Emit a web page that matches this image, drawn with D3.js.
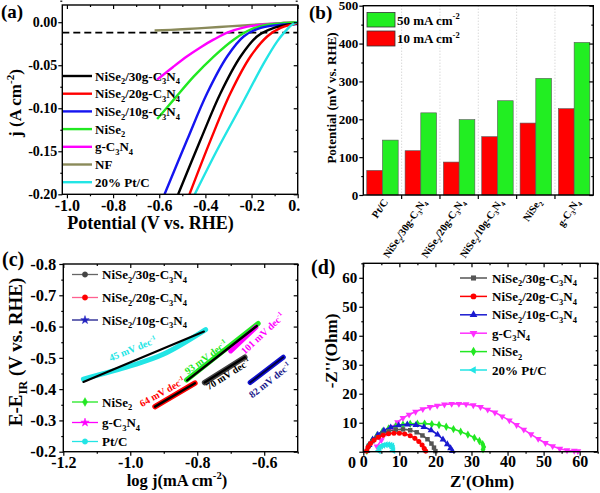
<!DOCTYPE html>
<html><head><meta charset="utf-8">
<script src="https://cdn.jsdelivr.net/npm/d3@7"></script>
<style>
body{margin:0;background:#fff}
svg text{font-family:"Liberation Serif","Times New Roman",serif;font-weight:bold}
</style></head><body>
<svg id="c" width="600" height="493"></svg>
<script>
// ---------------- DATA ----------------
// (a) polarization curves [V vs RHE, j A cm-2]
const polN30 = [[-0.518,-0.2],[-0.421,-0.1367],[-0.334,-0.0823],[-0.247,-0.0396],[-0.175,-0.0163],[-0.103,-0.0066],[-0.045,-0.003],[0,-0.0015]];
const polN20 = [[-0.469,-0.2],[-0.377,-0.1367],[-0.291,-0.0823],[-0.204,-0.0396],[-0.131,-0.0163],[-0.074,-0.0066],[-0.03,-0.003],[0,-0.001]];
const polN10 = [[-0.577,-0.2],[-0.479,-0.1367],[-0.392,-0.0823],[-0.305,-0.0396],[-0.233,-0.0163],[-0.16,-0.0066],[-0.074,-0.003],[0,-0.002]];
const polNiSe2 = [[-0.609,-0.1126],[-0.537,-0.090],[-0.450,-0.063],[-0.363,-0.0396],[-0.276,-0.020],[-0.204,-0.0085],[-0.132,-0.003],[-0.06,-0.001],[0,0]];
const polGCN = [[-0.609,-0.0668],[-0.54,-0.052],[-0.479,-0.0396],[-0.42,-0.029],[-0.363,-0.020],[-0.30,-0.0115],[-0.24,-0.0065],[-0.19,-0.004],[-0.12,-0.002],[-0.06,-0.001],[0,-0.0005]];
const polNF = [[-0.62,-0.0097],[-0.5,-0.0082],[-0.4,-0.0066],[-0.3,-0.0049],[-0.2,-0.0032],[-0.1,-0.0016],[0,0]];
const polPtC = [[-0.446,-0.2],[-0.348,-0.148],[-0.247,-0.098],[-0.146,-0.0473],[-0.088,-0.022],[-0.055,-0.011],[-0.025,-0.003],[0,0]];
const refJ = -0.012;
const legA = ["NiSe_{2}/30g-C_{3}N_{4}","NiSe_{2}/20g-C_{3}N_{4}","NiSe_{2}/10g-C_{3}N_{4}","NiSe_{2}","g-C_{3}N_{4}","NF","20% Pt/C"];
const xTicksA = [-1.0,-0.8,-0.6,-0.4,-0.2,0.0];
const yTicksA = [0.00,-0.05,-0.10,-0.15,-0.20];

// (b) overpotentials (mV)
const catsB = ["Pt/C","NiSe_{2}/30g-C_{3}N_{4}","NiSe_{2}/20g-C_{3}N_{4}","NiSe_{2}/10g-C_{3}N_{4}","NiSe_{2}","g-C_{3}N_{4}"];
const eta10 = [65,117,87,154,190,228];
const eta50 = [145,217,199,249,308,403];
const yTicksB = [0,100,200,300,400,500];

// (c) Tafel plots [log j, E-EiR]
const tafPtC = [[-1.14,-0.432],[-1.0,-0.474],[-0.9,-0.512],[-0.775,-0.590]];
const fitPtC = [[-1.14,-0.423],[-0.78,-0.584]];
const tafNiSe2 = [[-0.832,-0.429],[-0.618,-0.610]];
const fitNiSe2 = [[-0.83,-0.428],[-0.622,-0.602]];
const tafGCN = [[-0.70,-0.522],[-0.625,-0.598]];
const taf30 = [[-0.778,-0.421],[-0.658,-0.502]];
const taf20 = [[-0.926,-0.344],[-0.807,-0.419]];
const taf10 = [[-0.642,-0.421],[-0.543,-0.502]];
const slopeLabels = ["45 mV dec^{-1}","93 mV dec^{-1}","101 mV dec^{-1}","64 mV dec^{-1}","70 mV dec^{-1}","82 mV dec^{-1}"];
const xTicksC = [-1.2,-1.0,-0.8,-0.6];
const yTicksC = [-0.8,-0.7,-0.6,-0.5,-0.4,-0.3,-0.2];

// (d) Nyquist [Z', -Z'']
const nyqPtC = [[4.3,0.3],[4.5,1.2],[4.9,1.9],[5.5,2.2],[6.2,2.4],[6.9,2.4],[7.5,2.3],[8.0,2.0],[8.2,1.2],[8.3,0.4]];
const nyq20 = [[0.9,0.2],[1.3,1.5],[2.0,2.8],[3.0,4.0],[4.2,5.0],[5.5,5.7],[7.0,6.2],[8.5,6.4],[10,6.4],[11.5,6.1],[13,5.5],[14.3,4.6],[15.4,3.5],[16.3,2.3],[16.9,1.1],[17.3,0.2]];
const nyq30 = [[1.0,0.3],[1.5,2],[2.5,3.6],[3.8,5],[5.3,6.2],[7,7.0],[9,7.6],[11,7.7],[13,7.4],[14.8,6.7],[16.4,5.6],[17.8,4.3],[18.9,2.8],[19.6,1.4],[20,0.2]];
const nyq10 = [[1,0.3],[1.6,2.3],[2.6,4.2],[4,5.9],[5.7,7.3],[7.6,8.4],[9.8,9.1],[12.2,9.4],[14.6,9.2],[16.8,8.5],[18.8,7.4],[20.6,5.9],[22.1,4.2],[23.3,2.6],[24.2,1.2],[24.7,0.2]];
const nyqNiSe2 = [[1,0.3],[1.5,2.2],[2.5,4],[3.8,5.6],[5.3,7],[7,8],[9,8.8],[11,9.3],[13,9.6],[15,9.7],[17,9.7],[19,9.5],[21,9.2],[23,8.6],[25,7.8],[27,6.9],[29,5.9],[30.8,4.8],[32.2,3.7],[33.1,2.6],[33.4,1.6],[33.2,0.8]];
const nyqGCN = [[3.8,1.8],[5,4],[6.5,6.5],[8,8.5],[9.5,10.2],[11,11.6],[12.7,12.8],[14.5,13.8],[16.5,14.7],[18.5,15.4],[20.5,15.9],[22.5,16.3],[24.5,16.5],[26.5,16.5],[28.5,16.4],[30.5,16],[32.5,15.4],[34.5,14.5],[36.5,13.5],[38.5,12.2],[40.5,10.8],[42.5,9.2],[44.5,7.6],[46.5,6],[48.5,4.4],[50.5,3],[52.5,1.9],[54.5,1],[56.5,0.5],[58.5,0.3],[59.5,0.2]];
const legD = ["NiSe_{2}/30g-C_{3}N_{4}","NiSe_{2}/20g-C_{3}N_{4}","NiSe_{2}/10g-C_{3}N_{4}","g-C_{3}N_{4}","NiSe_{2}","20% Pt/C"];
const ticksD = [0,10,20,30,40,50,60];

// ---------------- HELPERS ----------------
const svg = d3.select("#c");
const fmt = p => d => d3.format("." + p + "f")(d).replace("\u2212", "-");

function rich(sel, str, fs) {
  const parts = str.split(/(_\{[^}]*\}|\^\{[^}]*\})/).filter(s => s.length);
  let shift = 0;
  parts.forEach(p => {
    let kind = null, t = p;
    if (p.startsWith("_{")) { kind = "sub"; t = p.slice(2, -1); }
    else if (p.startsWith("^{")) { kind = "sup"; t = p.slice(2, -1); }
    const target = kind === "sub" ? fs * 0.28 : kind === "sup" ? -fs * 0.42 : 0;
    const ts = sel.append("tspan").text(t).attr("dy", target - shift);
    if (kind) ts.attr("font-size", fs * 0.65);
    shift = target;
  });
  return sel;
}
function txt(g, x, y, str, fs, o = {}) {
  const t = g.append("text").attr("font-size", fs).attr("fill", o.fill || "#000")
    .attr("text-anchor", o.anchor || "start");
  if (o.rot !== undefined) t.attr("transform", `translate(${x},${y}) rotate(${o.rot})`);
  else t.attr("x", x).attr("y", y);
  rich(t, str, fs);
  return t;
}
function frame(g, x, y, c) {
  const [x0, x1] = x.range();
  const y0 = Math.max(...y.range()), y1 = Math.min(...y.range()); // bottom, top
  const ax = (gen, tr, vals, size, f, fs, pad) => {
    const a = g.append("g").attr("transform", tr)
      .call(gen.tickValues(vals).tickSize(size).tickPadding(pad === undefined ? 1 : pad).tickFormat(f || (() => "")));
    a.select(".domain").remove();
    a.selectAll("line").attr("stroke", "#000").attr("stroke-width", 1.2);
    a.selectAll("text").attr("font-size", fs || 12).attr("fill", "#000")
      .attr("font-family", '"Liberation Serif","Times New Roman",serif').attr("font-weight", "bold");
    return a;
  };
  ax(d3.axisLeft(y), `translate(${x0},0)`, c.yMaj, 4, c.yFmt, c.yfs, c.ypad);
  if (c.yMin) ax(d3.axisLeft(y), `translate(${x0},0)`, c.yMin, 2);
  ax(d3.axisLeft(y), `translate(${x1},0)`, c.yMaj, 4);
  if (c.yMin) ax(d3.axisLeft(y), `translate(${x1},0)`, c.yMin, 2);
  if (c.xMaj) ax(d3.axisBottom(x), `translate(0,${y0})`, c.xMaj, 4, c.xFmt, c.xfs, c.xpad);
  if (c.xMin) ax(d3.axisBottom(x), `translate(0,${y0})`, c.xMin, 2);
  if (c.xMaj) ax(d3.axisBottom(x), `translate(0,${y1})`, c.xMaj, 4);
  if (c.xMin) ax(d3.axisBottom(x), `translate(0,${y1})`, c.xMin, 2);
  g.append("rect").attr("x", x0).attr("y", y1).attr("width", x1 - x0).attr("height", y0 - y1)
    .attr("fill", "none").attr("stroke", "#000").attr("stroke-width", 1.4);
}
const range = (a, b, s) => d3.range(a, b + s / 2, s);

// ---------------- PANEL A ----------------
{
  svg.append("clipPath").attr("id", "clipA").append("rect").attr("x", 0).attr("y", 0).attr("width", 300).attr("height", 240);
  const g = svg.append("g").attr("clip-path", "url(#clipA)");
  const x = d3.scaleLinear([-1.02, 0], [62.3, 297.7]);
  const y = d3.scaleLinear([-0.2, 0.02], [194.3, 5]);
  const line = d3.line().x(d => x(d[0])).y(d => y(d[1])).curve(d3.curveCatmullRom);
  g.append("clipPath").attr("id", "clipAin").append("rect")
    .attr("x", 62.3).attr("y", 5).attr("width", 235.4).attr("height", 189.3);
  const pg = g.append("g").attr("clip-path", "url(#clipAin)");
  pg.append("line").attr("x1", x(-1.02)).attr("x2", x(0)).attr("y1", y(refJ)).attr("y2", y(refJ))
    .attr("stroke", "#000").attr("stroke-width", 1.8).attr("stroke-dasharray", "7,4");
  const series = [[polNF, "#8a8a5a"], [polGCN, "#ff00ff"], [polNiSe2, "#22e822"], [polN10, "#1515f0"],
                  [polN30, "#000"], [polN20, "#ff0000"], [polPtC, "#22e5e5"]];
  series.forEach(([d, c]) => pg.append("path").attr("d", line(d)).attr("fill", "none")
    .attr("stroke", c).attr("stroke-width", 2.4));
  frame(g, x, y, {
    yMaj: yTicksA, yMin: range(-0.175, 0.01, 0.05), yFmt: fmt(2), yfs: 14,
    xMaj: xTicksA, xMin: range(-0.9, -0.05, 0.2), xFmt: fmt(1), xfs: 16
  });
  const colsA = ["#000", "#ff0000", "#1515f0", "#22e822", "#ff00ff", "#8a8a5a", "#22e5e5"];
  legA.forEach((s, i) => {
    const yy = 76 + i * 17.7;
    g.append("line").attr("x1", 63).attr("x2", 92).attr("y1", yy).attr("y2", yy)
      .attr("stroke", colsA[i]).attr("stroke-width", 2.4);
    txt(g, 95, yy + 4.5, s, 13);
  });
  txt(g, 150.5, 229, "Potential (V vs. RHE)", 18, { anchor: "middle" });
  txt(g, 21, 103, "j (A cm^{-2})", 17, { anchor: "middle", rot: -90 });
  txt(g, 1, 18, "(a)", 19);
}

// ---------------- PANEL B ----------------
{
  const g = svg.append("g");
  const x = d3.scaleBand(catsB, [363.3, 593.3]);
  const y = d3.scaleLinear([0, 500], [195, 5.7]);
  const inner = d3.scaleBand(["10", "50"], [0, x.bandwidth()]).paddingOuter(0.22);
  catsB.slice(1).forEach(c => g.append("line").attr("x1", x(c)).attr("x2", x(c)).attr("y1", 5.7).attr("y2", 195)
    .attr("stroke", "#bbb").attr("stroke-width", 0.8).attr("stroke-dasharray", "1,2"));
  catsB.forEach((c, i) => {
    g.append("rect").attr("x", x(c) + inner("10")).attr("width", inner.bandwidth())
      .attr("y", y(eta10[i])).attr("height", y(0) - y(eta10[i])).attr("fill", "#ff0000").attr("stroke", "#555").attr("stroke-width", 0.6);
    g.append("rect").attr("x", x(c) + inner("50")).attr("width", inner.bandwidth())
      .attr("y", y(eta50[i])).attr("height", y(0) - y(eta50[i])).attr("fill", "#22ee22").attr("stroke", "#555").attr("stroke-width", 0.6);
  });
  frame(g, d3.scaleLinear([0, 1], [363.3, 593.3]), y, {
    yMaj: yTicksB, yMin: range(50, 450, 100), yFmt: d3.format("d"), yfs: 13, ypad: 1
  });
  catsB.slice(1).forEach(c => g.append("line").attr("x1", x(c)).attr("x2", x(c)).attr("y1", 195).attr("y2", 199)
    .attr("stroke", "#000").attr("stroke-width", 1.2));
  catsB.forEach(c => txt(g, x(c) + x.bandwidth() / 2 + 6, 202, c, 10.5, { anchor: "end", rot: -56 }));
  g.append("rect").attr("x", 367).attr("y", 12.5).attr("width", 28).attr("height", 14.5).attr("fill", "#22ee22").attr("stroke", "#333").attr("stroke-width", 0.8);
  g.append("rect").attr("x", 367).attr("y", 31).attr("width", 28).attr("height", 15).attr("fill", "#ff0000").attr("stroke", "#333").attr("stroke-width", 0.8);
  txt(g, 397, 24.5, "50 mA cm^{-2}", 13);
  txt(g, 397, 43, "10 mA cm^{-2}", 13);
  txt(g, 336, 98, "Potential (mV vs. RHE)", 13, { anchor: "middle", rot: -90 });
  txt(g, 309, 19, "(b)", 19);
}

// ---------------- PANEL C ----------------
{
  const g = svg.append("g");
  const x = d3.scaleLinear([-1.2, -0.5], [63.3, 297.7]);
  const y = d3.scaleLinear([-0.8, -0.2], [264, 451.7]);
  const line = d3.line().x(d => x(d[0])).y(d => y(d[1])).curve(d3.curveCatmullRom);
  const thick = (d, c, w) => g.append("path").attr("d", line(d)).attr("fill", "none").attr("stroke", c)
    .attr("stroke-width", w).attr("stroke-linecap", "round");
  thick(tafPtC, "#22e5e5", 5); thick(fitPtC, "#000", 2.2);
  thick(tafNiSe2, "#22e822", 5); thick(tafGCN, "#ff00ff", 5); thick(fitNiSe2, "#000", 2.4);
  thick(taf20, "#ff0000", 5.5); thick(taf20, "#000", 2.4);
  thick(taf30, "#444", 5.5); thick(taf30, "#000", 2.4);
  thick(taf10, "#1010d0", 5); thick(taf10, "#000040", 1.8);
  const labPos = [[134, 352, -22, "#22e5e5"], [208, 360, -36, "#22e822"], [265, 336, -43, "#ff00ff"],
                  [164, 395, -29, "#ff0000"], [230, 377, -32, "#000"], [272, 383, -38, "#1a1a8c"]];
  slopeLabels.forEach((s, i) => {
    const [lx, ly, r, c] = labPos[i];
    txt(g, lx, ly, s, 10, { anchor: "middle", rot: r, fill: c });
  });
  frame(g, x, y, {
    yMaj: yTicksC, yMin: range(-0.75, -0.25, 0.1), yFmt: fmt(1), yfs: 16.5, ypad: 3,
    xMaj: xTicksC, xMin: range(-1.1, -0.5, 0.2), xFmt: fmt(1), xfs: 16, xpad: 1
  });
  const legC = [["NiSe_{2}/30g-C_{3}N_{4}", "#666", "#444", d3.symbolCircle, 274.5],
                ["NiSe_{2}/20g-C_{3}N_{4}", "#ff6090", "#ff0000", d3.symbolCircle, 297.5],
                ["NiSe_{2}/10g-C_{3}N_{4}", "#1a1a8c", "#2020c0", d3.symbolStar, 320],
                ["NiSe_{2}", "#22e822", "#22e822", d3.symbolDiamond, 402],
                ["g-C_{3}N_{4}", "#ff00ff", "#ff00ff", d3.symbolStar, 422.5],
                ["Pt/C", "#22e5e5", "#22e5e5", d3.symbolCircle, 441.5]];
  legC.forEach(([s, lc, mc, sym, yy]) => {
    g.append("line").attr("x1", 72).attr("x2", 98).attr("y1", yy).attr("y2", yy).attr("stroke", lc).attr("stroke-width", 1.3);
    g.append("path").attr("d", d3.symbol(sym, 22)()).attr("transform", `translate(85,${yy})`)
      .attr("fill", mc).attr("stroke", mc).attr("stroke-width", 0.5);
    txt(g, 102, yy + 4.5, s, 13);
  });
  txt(g, 177, 486, "log j(mA cm^{-2})", 16.5, { anchor: "middle" });
  txt(g, 22, 352, "E-E_{IR} (V vs. RHE)", 19, { anchor: "middle", rot: -90 });
  txt(g, 2, 266, "(c)", 20);
}

// ---------------- PANEL D ----------------
{
  const g = svg.append("g");
  const x = d3.scaleLinear([0, 65], [363.3, 597.7]);
  const y = d3.scaleLinear([0, 65], [451.7, 263.3]);
  const line = d3.line().x(d => x(d[0])).y(d => y(d[1])).curve(d3.curveCatmullRom);
  const ser = [[nyqGCN, "#ff30ff", d3.symbolTriangle, 180], [nyqNiSe2, "#22e822", d3.symbolDiamond, 0],
               [nyq10, "#1a1ad0", d3.symbolTriangle, 0], [nyq30, "#555", d3.symbolSquare, 0],
               [nyq20, "#ff0000", d3.symbolCircle, 0], [nyqPtC, "#22e5e5", d3.symbolTriangle, -90]];
  ser.forEach(([d, c, sym, rot]) => {
    g.append("path").attr("d", line(d)).attr("fill", "none").attr("stroke", c).attr("stroke-width", 1.6);
    g.selectAll(null).data(d).join("path").attr("d", d3.symbol(sym, 20)())
      .attr("transform", p => `translate(${x(p[0])},${y(p[1])}) rotate(${rot})`).attr("fill", c);
  });
  frame(g, x, y, {
    yMaj: ticksD, yMin: range(5, 65, 10), yFmt: d => d === 0 ? "" : d, yfs: 15, ypad: 2,
    xMaj: ticksD, xMin: range(5, 65, 10), xFmt: d3.format("d"), xfs: 16, xpad: 0
  });
  txt(g, 352, 468, "0", 16, { anchor: "middle" });
  const legMeta = [["#555", d3.symbolSquare, 0], ["#ff0000", d3.symbolCircle, 0], ["#1a1ad0", d3.symbolTriangle, 0],
                   ["#ff30ff", d3.symbolTriangle, 180], ["#22e822", d3.symbolDiamond, 0], ["#22e5e5", d3.symbolTriangle, -90]];
  legD.forEach((s, i) => {
    const yy = 278 + i * 18.4;
    const [c, sym, rot] = legMeta[i];
    g.append("line").attr("x1", 460).attr("x2", 487).attr("y1", yy).attr("y2", yy).attr("stroke", c).attr("stroke-width", 1.5);
    g.append("path").attr("d", d3.symbol(sym, 26)()).attr("transform", `translate(473.5,${yy}) rotate(${rot})`).attr("fill", c);
    txt(g, 492, yy + 4.5, s, 13);
  });
  txt(g, 482, 487, "Z'(Ohm)", 17, { anchor: "middle" });
  txt(g, 337, 351, "-Z''(Ohm)", 17, { anchor: "middle", rot: -90 });
  txt(g, 311, 274, "(d)", 20);
}
</script></body></html>
